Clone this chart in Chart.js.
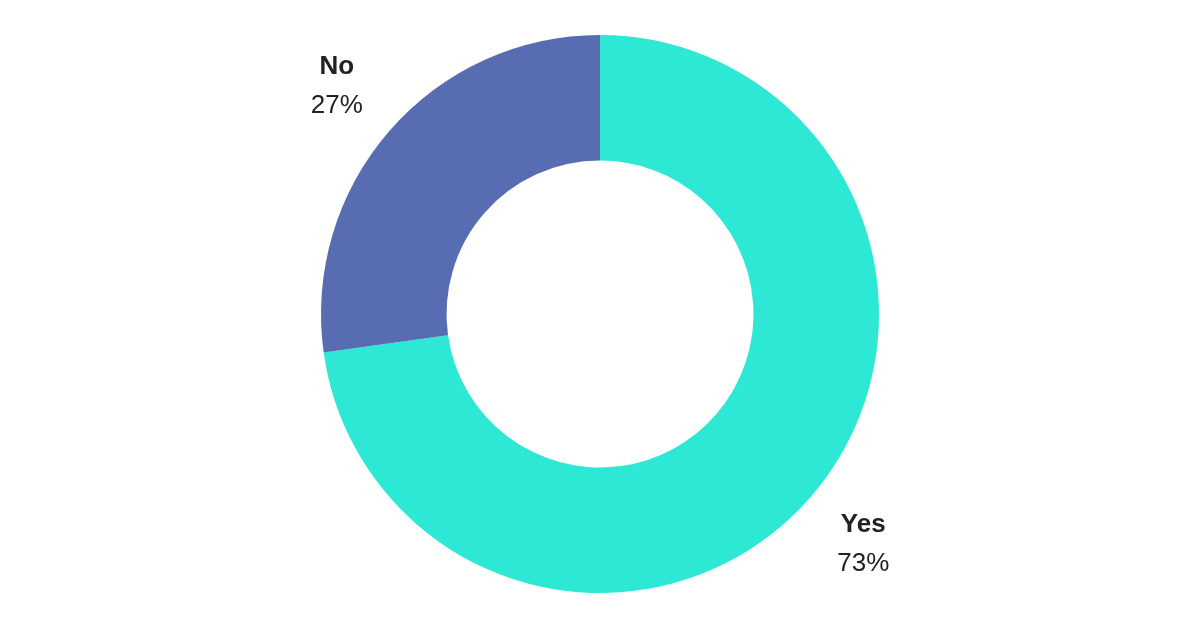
<!DOCTYPE html>
<html>
<head>
<meta charset="utf-8">
<style>
html,body{margin:0;padding:0;background:#fff;}
#wrap{width:1200px;height:628px;}
</style>
<script src="https://cdn.jsdelivr.net/npm/chart.js@4/dist/chart.umd.min.js"></script>
</head>
<body>
<div id="wrap"><canvas id="c" width="1200" height="628"></canvas></div>
<script>
const categories = ["Yes", "No"];
const values = [72.8, 27.2];
const colors = ["#2EE8D6", "#586DB1"];

const outsideLabels = {
  id: 'outsideLabels',
  afterDatasetsDraw(chart) {
    const ctx = chart.ctx;
    const meta = chart.getDatasetMeta(0);
    const total = values.reduce((a, b) => a + b, 0);
    meta.data.forEach((arc, i) => {
      const p = arc.getProps(['x', 'y', 'startAngle', 'endAngle', 'outerRadius'], true);
      const mid = (p.startAngle + p.endAngle) / 2;
      const r = p.outerRadius + 70;
      const cx = p.x + Math.cos(mid) * r;
      const cy = p.y + Math.sin(mid) * r + 1;
      ctx.save();
      ctx.fillStyle = '#222222';
      ctx.textAlign = 'center';
      ctx.textBaseline = 'middle';
      ctx.font = 'bold 26px "Liberation Sans", Arial, sans-serif';
      ctx.fillText(categories[i], cx, cy - 19);
      ctx.font = '26px "Liberation Sans", Arial, sans-serif';
      ctx.fillText(Math.round(values[i] / total * 100) + '%', cx, cy + 20);
      ctx.restore();
    });
  }
};

new Chart(document.getElementById('c'), {
  type: 'doughnut',
  data: {
    labels: categories,
    datasets: [{
      data: values,
      backgroundColor: colors,
      borderWidth: 0,
      hoverOffset: 0
    }]
  },
  options: {
    responsive: false,
    animation: false,
    cutout: '55%',
    layout: { padding: { top: 35, bottom: 35 } },
    plugins: {
      legend: { display: false },
      tooltip: { enabled: false }
    }
  },
  plugins: [outsideLabels]
});
</script>
</body>
</html>
